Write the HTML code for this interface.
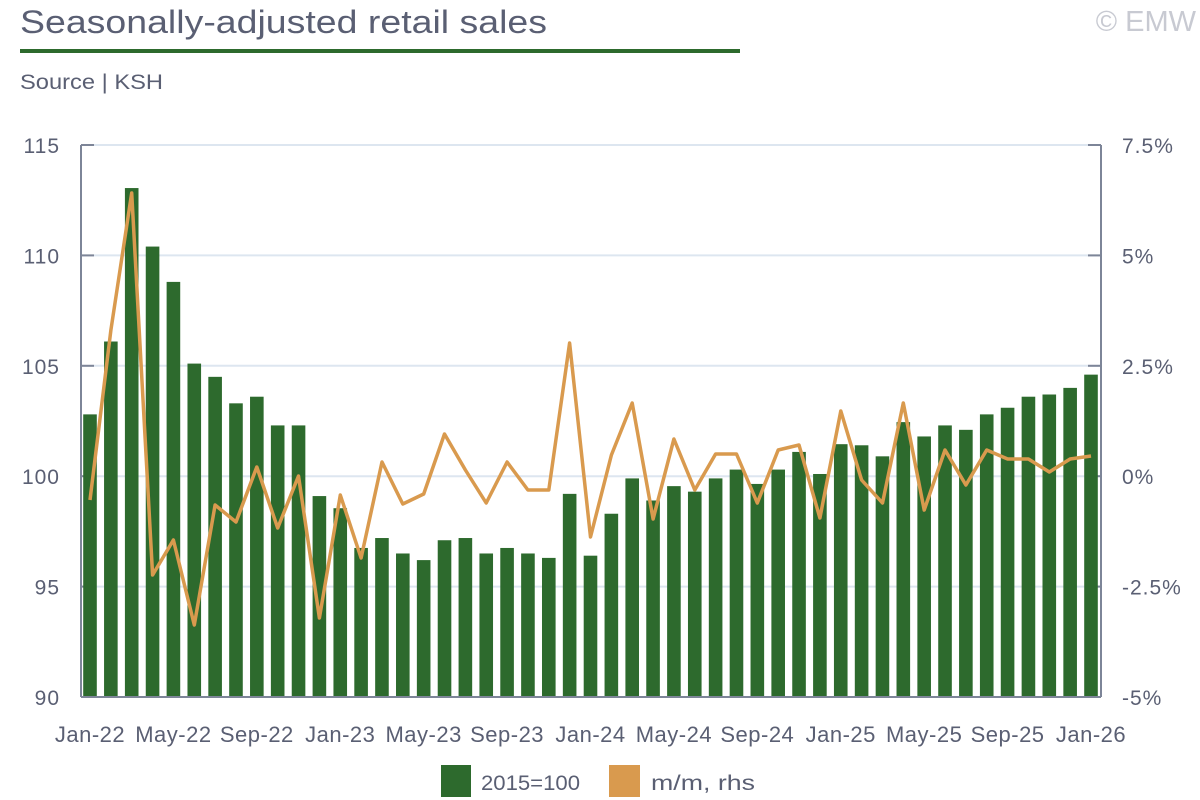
<!DOCTYPE html>
<html><head><meta charset="utf-8"><style>
html,body{margin:0;padding:0;background:#fff;}
svg{display:block;font-family:"Liberation Sans",sans-serif;}
</style></head><body>
<svg id="s" width="1200" height="800" viewBox="0 0 1200 800" xmlns="http://www.w3.org/2000/svg">
<text x="20" y="33" font-size="32" fill="#5a5f73" textLength="527" lengthAdjust="spacingAndGlyphs">Seasonally-adjusted retail sales</text>
<text x="1196" y="31" font-size="29" fill="#c8cad2" text-anchor="end">© EMW</text>
<rect x="20" y="49" width="720" height="4" fill="#2d6a2d"/>
<text x="20" y="89" font-size="21" fill="#5a5f73" textLength="143" lengthAdjust="spacingAndGlyphs">Source | KSH</text>
<g id="g"></g>
<rect x="441" y="765" width="30" height="32" fill="#2d6a2d"/>
<text x="481" y="790" font-size="21" fill="#5a5f73" textLength="99" lengthAdjust="spacingAndGlyphs">2015=100</text>
<rect x="609" y="765" width="31" height="32" fill="#d99a4e"/>
<text x="651" y="790" font-size="21" fill="#5a5f73" textLength="104" lengthAdjust="spacingAndGlyphs">m/m, rhs</text>
</svg>
<script>
(function(){
var g=document.getElementById('g'),h='';
var T=145,B=697,L=81,R=1101;
function yv(v){return T+(115-v)*22.08;}
var lt=['115','110','105','100','95','90'],rt=['7.5%','5%','2.5%','0%','-2.5%','-5%'];
for(var i=0;i<6;i++){var y=T+i*110.4;
 if(i<5)h+='<line x1="'+L+'" x2="'+R+'" y1="'+y+'" y2="'+y+'" stroke="#dde6f0" stroke-width="2"/>';
 h+='<line x1="'+L+'" x2="'+(L+13)+'" y1="'+y+'" y2="'+y+'" stroke="#7d8598" stroke-width="2"/>';
 h+='<line x1="'+(R-13)+'" x2="'+R+'" y1="'+y+'" y2="'+y+'" stroke="#7d8598" stroke-width="2"/>';
 h+='<text x="60" y="'+(y+8)+'" font-size="21" fill="#5a5f73" text-anchor="end" letter-spacing="1">'+lt[i]+'</text>';
 h+='<text x="1122" y="'+(y+8)+'" font-size="21" fill="#5a5f73" letter-spacing="1">'+rt[i]+'</text>';}
var b=[102.8,106.1,113.05,110.4,108.8,105.1,104.5,103.3,103.6,102.3,102.3,99.1,98.55,96.75,97.2,96.5,96.2,97.1,97.2,96.5,96.75,96.5,96.3,99.2,96.4,98.3,99.9,98.9,99.55,99.3,99.9,100.3,99.65,100.3,101.1,100.1,101.45,101.4,100.9,102.45,101.8,102.3,102.1,102.8,103.1,103.6,103.7,104.0,104.6];
var ln=[500,330,193,575,540,625,505,522,467,528,476,618,495,558,462,504,494,434,470,503,462,490,490,343,537,455,403,519,439,490,454,454,503,450,445,518,411,480,503,403,510,450,485,450,459,459,472,459,456];
var sp=(1091-90)/48,pts=[];
for(var i=0;i<49;i++){var x=90+i*sp,y=yv(b[i]);
 h+='<rect x="'+(x-6.8)+'" y="'+y+'" width="13.6" height="'+(B-y)+'" fill="#2d6a2d"/>';
 pts.push(x.toFixed(1)+','+ln[i]);}
h+='<polyline points="'+pts.join(' ')+'" fill="none" stroke="#d99a4e" stroke-width="3.5" stroke-linejoin="round"/>';
h+='<line x1="'+L+'" x2="'+L+'" y1="'+T+'" y2="'+B+'" stroke="#7d8598" stroke-width="2"/>';
h+='<line x1="'+R+'" x2="'+R+'" y1="'+T+'" y2="'+B+'" stroke="#7d8598" stroke-width="2"/>';
h+='<line x1="'+L+'" x2="'+R+'" y1="'+B+'" y2="'+B+'" stroke="#7d8598" stroke-width="2"/>';
var xl=['Jan-22','May-22','Sep-22','Jan-23','May-23','Sep-23','Jan-24','May-24','Sep-24','Jan-25','May-25','Sep-25','Jan-26'];
for(var i=0;i<13;i++){h+='<text x="'+(90+i*4*sp)+'" y="742" font-size="22" fill="#5a5f73" text-anchor="middle" letter-spacing="0.5">'+xl[i]+'</text>';}
g.innerHTML=h;
})();
</script>
</body></html>
